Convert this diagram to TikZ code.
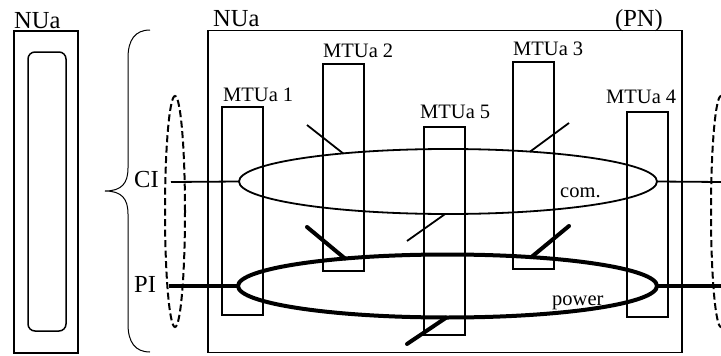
\documentclass[tikz,border=0pt]{standalone}
\usepackage{fontspec}
\setmainfont{Liberation Serif}
\usetikzlibrary{shapes.geometric}
\begin{document}
\begin{tikzpicture}[x=1pt,y=-1pt,
  mtu/.style={draw,line width=2pt,minimum width=41pt,inner sep=0pt,outer sep=0pt},
  ring/.style={draw,ellipse,inner sep=0pt,outer sep=0pt},
  pair/.style={draw,ellipse,dash pattern=on 7pt off 3.5pt,line width=2pt,minimum width=20pt,minimum height=231pt,inner sep=0pt,outer sep=0pt},
  thin link/.style={line width=1.8pt},
  thick link/.style={line width=4pt},
  tag/.style={font=\fontsize{20.5}{20.5}\selectfont,inner sep=0pt},
  big tag/.style={font=\fontsize{24.5}{24.5}\selectfont,inner sep=0pt}]
\useasboundingbox (0,0) rectangle (721,356);
\node[draw,line width=2pt,minimum width=64pt,minimum height=322pt,inner sep=0pt] (nua) at (46,192) {};
\node[draw,line width=1.5pt,rounded corners=7pt,minimum width=38pt,minimum height=279pt,inner sep=0pt] (core) at (47,191.5) {};
\node[big tag,anchor=base west] at (14,28) {NUa};
\draw[line width=1pt] (150,30) .. controls (135,30) and (128,40) .. (128,58) -- (128,168) .. controls (128,183) and (122,191) .. (105,191) .. controls (122,191) and (128,199) .. (128,214) -- (128,324) .. controls (128,342) and (135,352) .. (150,352);
\node[draw,line width=1.1pt,minimum width=474pt,minimum height=322pt,inner sep=0pt] (pn) at (445,191.3) {};
\node[big tag,anchor=base west] at (213,26) {NUa};
\node[big tag,anchor=base west] at (615,26) {(PN)};
\node[mtu,minimum height=208pt] (m1) at (242.5,211) {};
\node[mtu,minimum height=207pt] (m2) at (343.5,167.5) {};
\node[mtu,minimum height=208pt] (m5) at (444,231) {};
\node[mtu,minimum height=207pt] (m3) at (533.5,165.5) {};
\node[mtu,minimum height=205pt] (m4) at (647.5,214.5) {};
\node[tag,anchor=base west] at (223,101) {MTUa 1};
\node[tag,anchor=base west] at (323,57) {MTUa 2};
\node[tag,anchor=base west] at (420,118) {MTUa 5};
\node[tag,anchor=base west] at (513,55) {MTUa 3};
\node[tag,anchor=base west] at (606,103) {MTUa 4};
\node[ring,line width=1.8pt,minimum width=418pt,minimum height=65pt] (com) at (448,181.5) {};
\node[ring,line width=4pt,minimum width=419pt,minimum height=63pt] (power) at (447.5,286) {};
\node[tag,anchor=base west] at (560,197) {com.};
\node[tag,anchor=base west] at (552,305) {power};
\node[pair] (lpair) at (175,211.5) {};
\node[pair] (rpair) at (721,211.5) {};
\node[big tag,anchor=base west] (ci) at (134,187) {CI};
\node[big tag,anchor=base west] (pi) at (134,292) {PI};
\coordinate (ciL) at (171,182);
\coordinate (ciR) at (721,182);
\coordinate (piL) at (169,286);
\coordinate (piR) at (721,286);
\draw[thin link] (ciL) -- (com.west);
\draw[thin link] (com.east) -- (ciR);
\draw[thick link] (piL) -- (power.west);
\draw[thick link] (power.east) -- (piR);
\coordinate (t2c) at (307,125);
\coordinate (t3c) at (569,123);
\coordinate (t5c) at (407,241);
\coordinate (t2p) at (307,227);
\coordinate (t3p) at (569,226);
\coordinate (t5p) at (407,344);
\draw[thin link] (com.165) -- (t2c);
\draw[thin link] (com.20) -- (t3c);
\draw[thin link] (com.-95) -- (t5c);
\draw[thick link,line cap=round] (power.165) -- (t2p);
\draw[thick link,line cap=round] (power.19) -- (t3p);
\draw[thick link,line cap=round] (power.-92) -- (t5p);
\end{tikzpicture}
\end{document}
